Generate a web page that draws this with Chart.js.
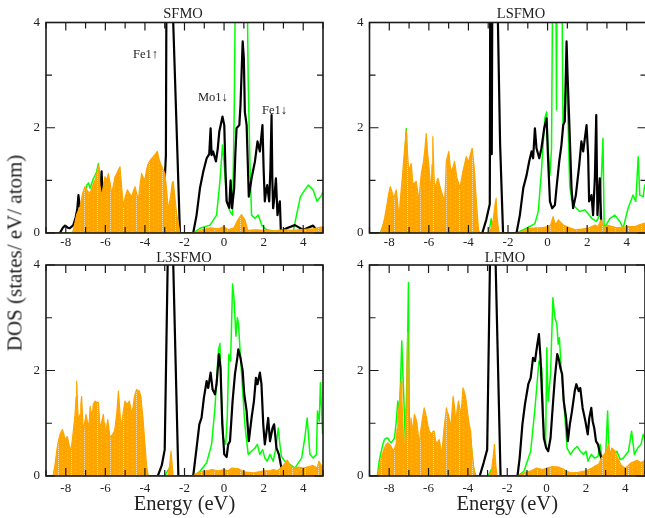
<!DOCTYPE html>
<html><head><meta charset="utf-8">
<script src="https://cdn.jsdelivr.net/npm/chart.js@4/dist/chart.umd.min.js"></script>
<style>
html,body{margin:0;padding:0;background:#fff;width:645px;height:518px;overflow:hidden;position:relative;font-family:"Liberation Serif",serif;}
canvas{position:absolute;}
.t{position:absolute;font-size:14.5px;color:#222;white-space:nowrap;transform:translate(-50%,-50%);line-height:1;}
.a{position:absolute;font-size:12.5px;color:#222;white-space:nowrap;transform:translate(0,-50%);line-height:1;}
#ylab{position:absolute;left:15px;top:253px;font-size:21px;color:#222;white-space:nowrap;transform:translate(-50%,-50%) rotate(-90deg);line-height:1;}
</style></head><body>
<canvas id="c0" width="330" height="250" style="left:0px;top:0px"></canvas>
<canvas id="c1" width="320" height="250" style="left:330px;top:0px"></canvas>
<canvas id="c2" width="330" height="268" style="left:0px;top:250px"></canvas>
<canvas id="c3" width="320" height="268" style="left:330px;top:250px"></canvas>
<div class="t" style="left:183px;top:12.5px">SFMO</div>
<div class="t" style="left:521px;top:12.5px">LSFMO</div>
<div class="t" style="left:184px;top:257px">L3SFMO</div>
<div class="t" style="left:505px;top:257px">LFMO</div>
<div class="a" style="left:133px;top:54px">Fe1↑</div>
<div class="a" style="left:198px;top:97px">Mo1↓</div>
<div class="a" style="left:262px;top:110px">Fe1↓</div>
<div id="ylab">DOS (states/ eV/ atom)</div>
<script>
// ---------- data: [energy (eV), DOS] ----------
const panelTitles = ['SFMO','LSFMO','L3SFMO','LFMO'];
const xLabel = 'Energy (eV)';

const sfmoOrange = [[-9,0],[-7.7,0],[-7.62,0.05],[-7.45,0.35],[-7.28,0.5],[-7.15,0.75],[-7.03,0.88],[-6.9,0.8],[-6.77,0.75],[-6.65,0.9],[-6.52,1.0],[-6.42,1.15],[-6.35,1.29],[-6.27,0.9],[-6.19,0.69],[-6.1,0.9],[-6.02,1.07],[-5.93,1.0],[-5.85,1.13],[-5.76,0.95],[-5.68,0.75],[-5.6,0.9],[-5.51,1.07],[-5.4,1.15],[-5.26,1.26],[-5.17,0.85],[-5.09,0.5],[-4.99,0.7],[-4.89,0.82],[-4.78,0.75],[-4.67,0.69],[-4.58,0.8],[-4.5,0.88],[-4.42,0.75],[-4.33,0.63],[-4.25,0.9],[-4.17,1.13],[-4.08,1.05],[-4.0,1.0],[-3.92,1.2],[-3.83,1.32],[-3.7,1.4],[-3.58,1.45],[-3.47,1.5],[-3.37,1.55],[-3.29,1.4],[-3.21,1.32],[-3.1,1.22],[-2.99,1.13],[-2.9,0.8],[-2.82,0.44],[-2.7,0.7],[-2.62,0.95],[-2.57,0.98],[-2.48,0.65],[-2.4,0.37],[-2.3,0.15],[-2.23,0],[-1.6,0],[-1.2,0.05],[-0.7,0.1],[-0.3,0.08],[0.0,0.12],[0.2,0.06],[0.5,0.1],[0.7,0.25],[0.88,0.35],[1.05,0.25],[1.2,0.05],[1.6,0.06],[2.0,0.05],[2.5,0.04],[3.0,0.06],[3.5,0.05],[4.0,0.07],[4.5,0.08],[5.0,0.12]];
const sfmoBlack = [[-9,0],[-8.3,0],[-8.15,0.1],[-8.04,0.14],[-7.9,0.1],[-7.8,0.09],[-7.62,0.15],[-7.5,0.3],[-7.42,0.45],[-7.36,0.72],[-7.3,0.5],[-7.0,0.5],[-6.6,0.55],[-6.3,0.6],[-6.24,0.75],[-6.19,1.17],[-6.15,0.8],[-6.1,0.9],[-6.0,0.6],[-5.5,0.45],[-5.0,0.35],[-4.5,0.45],[-4.0,0.6],[-3.5,0.8],[-3.1,0.7],[-3.0,1.0],[-2.94,1.48],[-2.9,6],[-2.62,6],[-2.57,4],[-2.4,2.0],[-2.23,0],[-1.56,0],[-1.39,0.34],[-1.22,0.85],[-1.05,1.17],[-0.88,1.42],[-0.75,1.5],[-0.68,1.99],[-0.63,1.48],[-0.55,1.55],[-0.48,1.45],[-0.41,1.36],[-0.32,1.6],[-0.24,1.93],[-0.08,2.21],[0.01,2.05],[0.07,1.2],[0.13,0.6],[0.26,0.48],[0.33,1.0],[0.40,0.47],[0.51,0.85],[0.57,1.5],[0.63,1.99],[0.77,2.05],[0.83,2.43],[0.94,3.64],[1.0,3.32],[1.05,2.3],[1.14,2.05],[1.25,0.69],[1.39,1.04],[1.56,1.36],[1.69,1.74],[1.81,1.55],[1.94,2.05],[2.0,1.2],[2.06,0.6],[2.12,0.8],[2.18,0.91],[2.23,0.75],[2.28,0.6],[2.34,1.2],[2.4,2.24],[2.44,1.0],[2.48,0.47],[2.55,0.7],[2.62,1.04],[2.7,0.34],[2.76,0.5],[2.82,0.6],[2.87,0.03],[3.16,0.09],[3.58,0.15],[4.0,0.06],[4.5,0.14],[4.67,0.06],[5.0,0.03]];
const sfmoGreen = [[-9,0],[-7.62,0],[-7.4,0.3],[-7.11,0.6],[-6.94,0.91],[-6.85,0.95],[-6.77,0.85],[-6.6,1.04],[-6.45,1.15],[-6.35,1.32],[-6.19,0.66],[-6.0,0.6],[-5.5,0.5],[-5.0,0.4],[-4.5,0.5],[-4.0,0.7],[-3.5,0.9],[-3.0,0.6],[-2.8,0.2],[-2.5,0.1],[-2.2,0],[-1.56,0],[-1.22,0.09],[-0.71,0.15],[-0.38,0.34],[-0.21,0.98],[-0.08,1.67],[0.01,1.29],[0.13,0.6],[0.3,0.41],[0.43,0.34],[0.51,2.24],[0.58,5],[1.16,5],[1.22,2.88],[1.31,1.29],[1.39,0.34],[1.56,0.28],[1.73,0.34],[1.9,0.15],[2.15,0.06],[2.65,0.03],[3.5,0.03],[3.66,0.34],[3.86,0.69],[4.05,0.8],[4.25,0.91],[4.5,0.82],[4.7,0.6],[4.93,0.72],[5.0,0.79]];

const lsfmoOrange = [[-9,0],[-8.45,0],[-8.35,0.1],[-8.24,0.28],[-8.12,0.53],[-8.03,0.75],[-7.95,0.88],[-7.86,0.78],[-7.78,0.66],[-7.7,0.75],[-7.65,0.82],[-7.58,0.6],[-7.51,0.28],[-7.45,0.6],[-7.39,0.85],[-7.33,1.1],[-7.28,1.36],[-7.2,1.7],[-7.14,1.94],[-7.08,1.5],[-7.01,1.17],[-6.95,1.25],[-6.89,1.32],[-6.8,0.91],[-6.72,0.95],[-6.64,0.98],[-6.57,0.8],[-6.5,0.6],[-6.44,0.9],[-6.38,1.13],[-6.27,1.36],[-6.2,1.6],[-6.13,1.89],[-6.06,1.5],[-6.0,1.29],[-5.94,1.0],[-5.88,0.85],[-5.84,1.3],[-5.8,1.83],[-5.75,1.2],[-5.71,0.85],[-5.62,0.95],[-5.54,1.04],[-5.45,0.9],[-5.37,0.79],[-5.29,0.7],[-5.21,0.6],[-5.15,1.0],[-5.12,1.36],[-4.99,1.55],[-4.93,1.3],[-4.87,1.17],[-4.78,1.25],[-4.7,1.36],[-4.64,1.2],[-4.58,1.04],[-4.5,0.95],[-4.45,0.85],[-4.36,1.0],[-4.28,1.17],[-4.2,1.3],[-4.11,1.45],[-4.05,1.4],[-3.98,1.36],[-3.9,1.5],[-3.81,1.61],[-3.75,1.4],[-3.69,1.17],[-3.61,0.66],[-3.54,0.3],[-3.47,0],[-3.05,0],[-2.95,0.05],[-2.85,0.08],[-2.75,0.25],[-2.65,0.55],[-2.6,0.66],[-2.55,0.3],[-2.46,0],[-1.6,0],[-1.3,0.03],[-1.0,0.08],[-0.6,0.1],[-0.3,0.1],[0.0,0.12],[0.15,0.15],[0.28,0.31],[0.4,0.15],[0.55,0.25],[0.62,0.22],[0.8,0.15],[1.0,0.12],[1.4,0.06],[1.8,0.08],[2.1,0.1],[2.4,0.15],[2.55,0.12],[2.7,0.25],[2.85,0.1],[3.0,0.15],[3.5,0.1],[4.0,0.12],[4.4,0.12],[4.6,0.15],[5.0,0.2]];
const lsfmoBlack = [[-9,0],[-3.3,0],[-3.1,0.25],[-2.92,0.55],[-2.89,6],[-2.86,1.5],[-2.82,1.5],[-2.78,6],[-2.55,6],[-2.51,4],[-2.4,1.7],[-2.25,0],[-1.57,0],[-1.4,0.34],[-1.23,0.85],[-1.06,1.1],[-0.93,1.36],[-0.81,1.55],[-0.73,1.42],[-0.64,1.99],[-0.56,1.61],[-0.42,1.42],[-0.31,1.61],[-0.17,1.99],[-0.05,2.18],[0.03,1.36],[0.12,0.6],[0.23,0.47],[0.37,0.53],[0.45,0.85],[0.59,1.36],[0.7,1.67],[0.79,2.05],[0.87,2.12],[0.96,3.64],[1.01,3.0],[1.09,2.18],[1.21,0.85],[1.29,0.47],[1.43,0.72],[1.6,1.29],[1.71,1.74],[1.8,1.55],[1.97,2.05],[2.05,1.48],[2.1,0.6],[2.22,0.72],[2.3,0.34],[2.39,1.04],[2.46,2.24],[2.52,0.34],[2.64,1.04],[2.72,0.09],[2.81,0],[5,0]];
const lsfmoGreen = [[-9,0],[-8.45,0],[-8.3,0.15],[-8.1,0.4],[-7.9,0.6],[-7.6,0.4],[-7.51,0.2],[-7.4,0.6],[-7.25,1.2],[-7.16,1.85],[-7.14,1.98],[-7.1,1.4],[-7.0,0.9],[-6.6,0.5],[-6.5,0.5],[-6.2,0.9],[-5.9,0.7],[-5.7,0.7],[-5.4,0.6],[-5.21,0.5],[-5.0,1.0],[-4.6,0.8],[-4.45,0.7],[-4.0,1.0],[-3.7,0.8],[-3.61,0.5],[-3.55,0.1],[-3.45,0],[-3.0,0],[-2.9,0.15],[-2.85,0.27],[-2.8,0.1],[-2.6,0.05],[-2.4,0],[-1.57,0],[-1.06,0.09],[-0.64,0.18],[-0.47,0.41],[-0.31,1.17],[-0.14,2.18],[-0.05,2.3],[0.03,1.61],[0.12,1.1],[0.2,1.61],[0.26,5],[0.42,5],[0.45,2.34],[0.48,5],[0.72,5],[0.78,2.03],[0.96,2.92],[1.04,2.03],[1.12,0.89],[1.21,0.66],[1.38,0.5],[1.63,0.41],[1.88,0.44],[2.05,0.37],[2.22,0.28],[2.47,0.22],[2.64,0.34],[2.8,1.8],[2.86,0.09],[3.15,0.28],[3.4,0.34],[3.65,0.22],[3.82,0.09],[4.07,0.47],[4.32,0.72],[4.46,0.6],[4.58,1.45],[4.66,0.72],[4.83,0.69],[4.91,0.91],[5,0.8]];

const l3sfmoOrange = [[-9,0],[-8.65,0],[-8.55,0.2],[-8.46,0.47],[-8.38,0.65],[-8.29,0.79],[-8.17,0.88],[-8.1,0.8],[-8.04,0.69],[-7.98,0.72],[-7.92,0.75],[-7.84,0.6],[-7.75,0.47],[-7.68,0.65],[-7.62,0.85],[-7.53,1.17],[-7.48,1.5],[-7.45,1.8],[-7.4,1.3],[-7.36,1.04],[-7.28,1.17],[-7.24,1.35],[-7.2,1.51],[-7.15,1.1],[-7.11,0.85],[-7.05,1.0],[-6.98,1.17],[-6.92,1.05],[-6.86,0.91],[-6.8,1.1],[-6.77,1.32],[-6.72,1.2],[-6.69,1.04],[-6.65,1.2],[-6.61,1.36],[-6.52,1.42],[-6.45,1.4],[-6.35,1.39],[-6.3,1.1],[-6.27,0.91],[-6.2,1.0],[-6.1,1.17],[-6.06,1.0],[-6.02,0.79],[-5.95,0.9],[-5.88,1.07],[-5.82,0.9],[-5.77,0.72],[-5.7,0.76],[-5.63,0.79],[-5.55,0.85],[-5.51,0.91],[-5.42,1.2],[-5.34,1.61],[-5.28,1.3],[-5.21,0.91],[-5.1,1.2],[-5.01,1.42],[-4.95,1.38],[-4.89,1.36],[-4.83,1.4],[-4.79,1.42],[-4.72,1.3],[-4.67,1.17],[-4.6,1.3],[-4.54,1.48],[-4.48,1.58],[-4.42,1.64],[-4.35,1.62],[-4.28,1.61],[-4.2,1.5],[-4.17,1.36],[-4.1,1.1],[-4.05,0.85],[-3.98,0.5],[-3.91,0.15],[-3.83,0],[-2.85,0],[-2.75,0.2],[-2.68,0.47],[-2.62,0.2],[-2.57,0],[-1.6,0],[-1.2,0.08],[-0.9,0.1],[-0.6,0.12],[-0.3,0.1],[0.0,0.12],[0.2,0.1],[0.4,0.15],[0.7,0.14],[1.0,0.08],[1.5,0.06],[2.0,0.1],[2.3,0.1],[2.5,0.12],[2.7,0.1],[3.0,0.2],[3.2,0.3],[3.35,0.2],[3.5,0.15],[3.8,0.17],[4.0,0.15],[4.3,0.18],[4.5,0.2],[4.7,0.15],[4.8,0.28],[4.9,0.2],[5.0,0.2]];
const l3sfmoBlack = [[-9,0],[-3.35,0],[-3.15,0.2],[-3.0,0.5],[-2.83,4.5],[-2.6,4.5],[-2.31,0],[-1.56,0],[-1.39,0.53],[-1.25,0.98],[-1.14,1.1],[-1.02,1.48],[-0.88,1.8],[-0.8,1.67],[-0.68,1.96],[-0.58,1.64],[-0.46,1.55],[-0.38,1.74],[-0.26,2.31],[-0.18,2.05],[-0.09,0.98],[0.01,0.41],[0.13,0.36],[0.21,0.6],[0.3,0.66],[0.43,1.42],[0.55,1.93],[0.67,2.24],[0.72,2.4],[0.83,2.24],[0.94,1.99],[1.02,1.55],[1.14,1.23],[1.25,0.66],[1.39,1.1],[1.51,1.42],[1.61,1.86],[1.69,1.74],[1.81,1.96],[1.89,1.74],[1.98,0.98],[2.06,0.6],[2.15,0.85],[2.23,1.1],[2.32,0.66],[2.45,0.91],[2.53,0.98],[2.65,0.53],[2.77,0.41],[2.9,0.15],[2.99,0],[5,0]];
const l3sfmoGreen = [[-9,0],[-8.6,0],[-8.4,0.4],[-8.2,0.6],[-7.9,0.55],[-7.75,0.35],[-7.5,0.9],[-7.0,0.7],[-6.5,1.1],[-6.0,0.6],[-5.5,0.7],[-5.0,0.9],[-4.5,1.2],[-4.1,0.8],[-3.95,0.2],[-3.85,0],[-3.0,0],[-2.85,0.1],[-2.75,0.15],[-2.6,0],[-1.56,0],[-1.22,0.09],[-0.88,0.25],[-0.63,0.6],[-0.46,1.29],[-0.29,2.37],[-0.21,2.51],[-0.13,1.48],[-0.04,0.72],[0.08,0.6],[0.16,1.1],[0.24,2.31],[0.33,2.18],[0.43,3.64],[0.5,3.38],[0.6,2.65],[0.67,3.0],[0.73,2.88],[0.8,2.43],[0.94,1.61],[1.05,0.98],[1.22,0.41],[1.39,0.47],[1.56,0.53],[1.68,0.6],[1.81,0.41],[1.95,0.5],[2.06,0.34],[2.18,0.28],[2.32,0.41],[2.48,0.28],[2.62,0.53],[2.74,0.91],[2.82,0.6],[2.9,0.37],[3.07,0.28],[3.33,0.22],[3.58,0.15],[3.75,0.25],[3.92,0.34],[4.08,0.72],[4.2,1.1],[4.34,0.41],[4.5,0.34],[4.67,0.41],[4.72,1.23],[4.81,1.04],[4.87,1.77],[4.98,0.79]];

const lfmoOrange = [[-9,0],[-8.57,0],[-8.48,0.2],[-8.4,0.34],[-8.32,0.45],[-8.24,0.53],[-8.15,0.6],[-8.07,0.63],[-7.98,0.6],[-7.9,0.56],[-7.78,0.47],[-7.7,0.55],[-7.65,0.6],[-7.6,0.9],[-7.56,1.17],[-7.48,1.36],[-7.43,1.6],[-7.39,1.8],[-7.35,1.4],[-7.31,1.1],[-7.27,0.7],[-7.23,0.34],[-7.18,0.8],[-7.14,1.17],[-7.1,2.0],[-7.06,2.72],[-7.02,1.2],[-6.97,0.22],[-6.93,0.7],[-6.89,1.1],[-6.84,0.95],[-6.8,0.85],[-6.72,1.17],[-6.6,1.04],[-6.53,0.8],[-6.47,0.6],[-6.4,0.85],[-6.33,1.04],[-6.22,1.29],[-6.16,1.2],[-6.1,1.1],[-6.03,0.95],[-5.96,0.85],[-5.9,0.82],[-5.83,0.79],[-5.77,0.85],[-5.71,0.85],[-5.65,0.7],[-5.59,0.6],[-5.52,0.65],[-5.46,0.69],[-5.39,0.55],[-5.32,0.41],[-5.26,0.7],[-5.21,0.91],[-5.15,1.1],[-5.09,1.29],[-5.04,1.2],[-4.99,1.17],[-4.93,1.05],[-4.87,0.91],[-4.81,1.2],[-4.75,1.51],[-4.68,1.3],[-4.62,1.04],[-4.55,1.25],[-4.48,1.42],[-4.42,1.3],[-4.36,1.17],[-4.3,1.4],[-4.25,1.67],[-4.18,1.6],[-4.11,1.48],[-4.05,1.3],[-3.98,1.1],[-3.92,0.95],[-3.86,0.85],[-3.8,0.5],[-3.72,0.22],[-3.64,0],[-2.9,0],[-2.8,0.1],[-2.72,0.35],[-2.65,0.6],[-2.58,0.2],[-2.52,0],[-1.5,0],[-1.2,0.05],[-0.8,0.1],[-0.5,0.15],[-0.2,0.12],[0.0,0.15],[0.3,0.18],[0.6,0.17],[0.9,0.12],[1.2,0.06],[1.6,0.07],[2.0,0.1],[2.3,0.15],[2.5,0.2],[2.64,0.22],[2.8,0.35],[3.0,0.45],[3.15,0.6],[3.25,0.4],[3.31,0.53],[3.48,0.47],[3.6,0.35],[3.8,0.2],[4.0,0.15],[4.3,0.25],[4.6,0.3],[4.8,0.25],[5.0,0.3]];
const lfmoBlack = [[-9,0],[-3.4,0],[-3.2,0.25],[-3.02,0.5],[-2.86,4.5],[-2.62,4.5],[-2.34,0],[-1.48,0],[-1.37,0.34],[-1.23,0.98],[-1.1,1.36],[-0.93,1.74],[-0.81,1.86],[-0.69,2.24],[-0.59,2.18],[-0.47,2.5],[-0.39,2.69],[-0.31,2.24],[-0.22,1.42],[-0.14,0.72],[-0.02,0.53],[0.08,0.47],[0.2,0.72],[0.32,1.36],[0.42,1.86],[0.54,2.31],[0.62,2.21],[0.7,2.05],[0.79,1.93],[0.87,1.42],[0.99,1.1],[1.08,0.66],[1.18,0.98],[1.29,1.23],[1.43,1.61],[1.51,1.74],[1.63,1.61],[1.71,1.67],[1.83,1.29],[1.97,1.04],[2.09,0.79],[2.17,1.1],[2.27,1.29],[2.34,1.04],[2.42,0.91],[2.51,0.66],[2.61,0.6],[2.72,0.41],[2.84,0.28],[2.94,0.34],[3.01,0.22],[3.1,0],[5,0]];
const lfmoGreen = [[-9,0],[-8.6,0],[-8.5,0.3],[-8.4,0.47],[-8.32,0.6],[-8.24,0.69],[-8.15,0.72],[-8.07,0.72],[-7.98,0.66],[-7.9,0.63],[-7.8,0.68],[-7.73,0.72],[-7.65,1.0],[-7.56,1.42],[-7.48,1.23],[-7.42,1.8],[-7.36,2.56],[-7.31,2.0],[-7.28,1.74],[-7.18,0.66],[-7.12,1.4],[-7.09,1.93],[-7.02,3.67],[-6.97,0.2],[-6.9,0.8],[-6.6,0.8],[-6.47,0.5],[-6.2,1.0],[-5.9,0.7],[-5.6,0.5],[-5.32,0.35],[-5.1,1.0],[-4.87,0.8],[-4.6,0.9],[-4.3,1.1],[-4.0,1.0],[-3.86,0.7],[-3.72,0.15],[-3.6,0],[-3.0,0],[-2.9,0.05],[-2.82,0.12],[-2.75,0.05],[-2.6,0],[-1.48,0],[-1.15,0.09],[-0.81,0.47],[-0.59,1.29],[-0.39,2.18],[-0.25,2.05],[-0.14,0.85],[-0.05,0.6],[0.01,2.43],[0.05,1.8],[0.08,1.42],[0.2,1.93],[0.32,3.38],[0.42,3.0],[0.52,2.88],[0.59,2.5],[0.65,2.62],[0.74,2.05],[0.87,1.42],[1.04,0.53],[1.21,0.41],[1.38,0.5],[1.55,0.56],[1.71,0.47],[1.88,0.41],[2.0,0.47],[2.1,0.28],[2.27,0.41],[2.44,0.34],[2.61,0.37],[2.72,0.6],[2.84,0.28],[2.98,0.22],[3.1,1.23],[3.18,0.34],[3.4,0.41],[3.57,0.47],[3.74,0.31],[3.9,0.34],[4.16,0.47],[4.32,0.85],[4.46,0.41],[4.63,0.53],[4.8,0.6],[4.91,0.79],[5,0.7]];

// ---------- drawing ----------
Chart.defaults.font.family = '"Liberation Serif", serif';
const FONT = '"Liberation Serif", serif';

function makePattern(off) {
  const c = document.createElement('canvas'); c.width = 13; c.height = 4;
  const g = c.getContext('2d');
  g.fillStyle = '#ffa500'; g.fillRect(0, 0, 13, 4);
  g.fillStyle = '#ffbb40';
  g.fillRect((off + 4) % 13, 1, 1, 1); g.fillRect((off + 9) % 13, 3, 1, 1);
  g.fillStyle = '#ffe2ad';
  g.fillRect(off % 13, 0, 1, 1); g.fillRect(off % 13, 2, 1, 1);
  return g.createPattern(c, 'repeat');
}

const framePlugin = {
  id: 'frame',
  afterDraw(chart) {
    const {ctx, chartArea: a, scales: {x, y}} = chart;
    ctx.save();
    ctx.strokeStyle = '#1a1a1a';
    ctx.lineWidth = 1.2;
    ctx.beginPath();
    x.ticks.forEach(t => {
      const px = x.getPixelForValue(t.value);
      const L = (Math.round(t.value) % 2 === 0) ? 8 : 6;
      ctx.moveTo(px, a.bottom); ctx.lineTo(px, a.bottom - L);
      ctx.moveTo(px, a.top); ctx.lineTo(px, a.top + L);
    });
    y.ticks.forEach(t => {
      const py = y.getPixelForValue(t.value);
      const L = (Math.round(t.value) % 2 === 0) ? 9 : 6;
      ctx.moveTo(a.left, py); ctx.lineTo(a.left + L, py);
      ctx.moveTo(a.right, py); ctx.lineTo(a.right - L, py);
    });
    ctx.stroke();
    ctx.lineWidth = 1.6;
    ctx.strokeRect(a.left, a.top, a.right - a.left, a.bottom - a.top);
    ctx.restore();
  }
};

const toXY = arr => arr.map(p => ({x: p[0], y: p[1]}));

function makeChart(id, orange, black, green, o) {
  return new Chart(document.getElementById(id), {
    type: 'line',
    data: {
      datasets: [
        {data: toXY(orange), borderColor: '#ffa500', backgroundColor: makePattern(o.pat), fill: 'origin', borderWidth: 1.2, pointRadius: 0, tension: 0, order: 0, borderJoinStyle: 'round'},
        {data: toXY(black), borderColor: '#000000', borderWidth: 2.2, pointRadius: 0, tension: 0, fill: false, order: 1, borderJoinStyle: 'round'},
        {data: toXY(green), borderColor: '#00ff00', borderWidth: 1.5, pointRadius: 0, tension: 0, fill: false, order: 2, borderJoinStyle: 'round'}
      ]
    },
    options: {
      responsive: false, animation: false, events: [],
      layout: {padding: {left: 0, top: o.top, right: o.right, bottom: 0}},
      plugins: {legend: {display: false}, tooltip: {enabled: false}, title: {display: false}},
      scales: {
        x: {
          type: 'linear', min: -9, max: 5,
          grid: {display: false, drawTicks: false}, border: {display: false},
          ticks: {stepSize: 1, autoSkip: false, maxRotation: 0, padding: o.xpad, color: '#222',
                  font: {family: FONT, size: 13},
                  callback: v => (Math.round(v) % 2 === 0) ? String(v) : ''},
          title: o.xtitle ? {display: true, text: xLabel, color: '#222', font: {family: FONT, size: 20.5}, padding: {top: 0, bottom: 1}} : {display: false},
          afterFit: s => { s.height = o.xh; }
        },
        y: {
          min: 0, max: 4,
          grid: {display: false, drawTicks: false}, border: {display: false},
          ticks: {stepSize: 1, autoSkip: false, padding: 6, color: '#222',
                  font: {family: FONT, size: 13},
                  callback: v => (Math.round(v) % 2 === 0) ? String(v) : ''},
          afterFit: s => { s.width = o.yw; }
        }
      }
    },
    plugins: [framePlugin]
  });
}

makeChart('c0', sfmoOrange, sfmoBlack, sfmoGreen, {top: 22.5, right: 7, yw: 46, xh: 17, xpad: 1.5, xtitle: false, pat: 6});
makeChart('c1', lsfmoOrange, lsfmoBlack, lsfmoGreen, {top: 22.5, right: 3.5, yw: 39.5, xh: 17, xpad: 1.5, xtitle: false, pat: 12});
makeChart('c2', l3sfmoOrange, l3sfmoBlack, l3sfmoGreen, {top: 15, right: 7, yw: 46, xh: 42, xpad: 5, xtitle: true, pat: 6});
makeChart('c3', lfmoOrange, lfmoBlack, lfmoGreen, {top: 15, right: 3.5, yw: 39.5, xh: 42, xpad: 5, xtitle: true, pat: 12});
</script>
</body></html>
